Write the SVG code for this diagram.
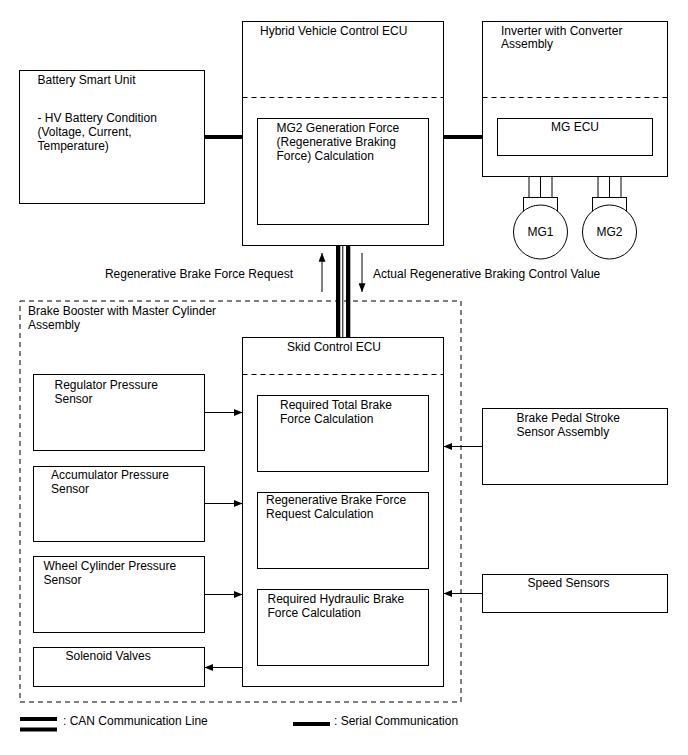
<svg xmlns="http://www.w3.org/2000/svg" width="688" height="755" viewBox="0 0 688 755">
<defs>
<style>
text{font-family:"Liberation Sans",Arial,sans-serif;font-size:12px;fill:#000}
.box{fill:#fff;stroke:#000;stroke-width:1}
.dash{fill:none;stroke:#000;stroke-width:1;stroke-dasharray:5,4}
.ln{stroke:#000;stroke-width:1;fill:none}
.ser{stroke:#000;stroke-width:4;fill:none}
.arr{stroke:#000;stroke-width:1;fill:none;marker-end:url(#ah)}
</style>
<marker id="ah" viewBox="0 0 10 8" refX="10" refY="4" markerWidth="9" markerHeight="7" markerUnits="userSpaceOnUse" orient="auto">
<path d="M0,0 L10,4 L0,8 Z" fill="#000"/>
</marker>
</defs>
<rect width="688" height="755" fill="#fff"/>

<g id="brake-booster">
<rect class="dash" x="20" y="301" width="441" height="401"/>
<text x="28" y="315">Brake Booster with Master Cylinder</text>
<text x="28" y="329">Assembly</text>
</g>

<g id="connectors">
<line class="ser" x1="204.5" y1="137" x2="242.5" y2="137"/>
<line class="ser" x1="443.5" y1="137" x2="497.5" y2="137"/>
<rect x="336" y="245.5" width="4.3" height="92" fill="#000"/>
<rect x="346" y="245.5" width="4.3" height="92" fill="#000"/>
<line x1="342.8" y1="245.5" x2="342.8" y2="337.5" stroke="#000" stroke-width="1"/>
<line class="arr" x1="322" y1="292" x2="322" y2="253"/>
<line class="arr" x1="362" y1="253" x2="362" y2="292"/>
<line class="arr" x1="204.5" y1="412.5" x2="242.5" y2="412.5"/>
<line class="arr" x1="204.5" y1="503.5" x2="242.5" y2="503.5"/>
<line class="arr" x1="204.5" y1="594.5" x2="242.5" y2="594.5"/>
<line class="arr" x1="242.5" y1="667.5" x2="204.5" y2="667.5"/>
<line class="arr" x1="482.5" y1="446.5" x2="443.5" y2="446.5"/>
<line class="arr" x1="482.5" y1="593.5" x2="443.5" y2="593.5"/>
<line class="ln" x1="529" y1="176.5" x2="529" y2="197.5"/>
<line class="ln" x1="540.5" y1="176.5" x2="540.5" y2="197.5"/>
<line class="ln" x1="552" y1="176.5" x2="552" y2="197.5"/>
<line class="ln" x1="598" y1="176.5" x2="598" y2="197.5"/>
<line class="ln" x1="609.5" y1="176.5" x2="609.5" y2="197.5"/>
<line class="ln" x1="621" y1="176.5" x2="621" y2="197.5"/>
</g>

<g id="battery-smart-unit">
<rect class="box" x="19.5" y="70.5" width="185" height="133"/>
<text x="37.5" y="83.5">Battery Smart Unit</text>
<text x="37.5" y="121.5">- HV Battery Condition</text>
<text x="37.5" y="135.5">(Voltage, Current,</text>
<text x="37.5" y="149.5">Temperature)</text>
</g>

<g id="hv-ecu">
<rect class="box" x="242.5" y="21.5" width="201" height="224"/>
<text x="260" y="35">Hybrid Vehicle Control ECU</text>
<line class="dash" x1="242.5" y1="97.5" x2="443.5" y2="97.5"/>
</g>

<g id="mg2-generation-force">
<rect class="box" x="257.5" y="118.5" width="171" height="106"/>
<text x="276.5" y="131.5">MG2 Generation Force</text>
<text x="276.5" y="145.5">(Regenerative Braking</text>
<text x="276.5" y="159.5">Force) Calculation</text>
</g>

<g id="inverter">
<rect class="box" x="482.5" y="21.5" width="185" height="155"/>
<text x="501" y="34.5">Inverter with Converter</text>
<text x="501" y="48">Assembly</text>
<line class="dash" x1="482.5" y1="97.5" x2="667.5" y2="97.5"/>
</g>

<g id="mg-ecu">
<rect class="box" x="497.5" y="118.5" width="155" height="37"/>
<text x="575" y="131" text-anchor="middle">MG ECU</text>
</g>

<g id="mg1">
<rect class="box" x="523.5" y="197.5" width="34" height="14"/>
<circle class="box" cx="540.5" cy="232" r="27"/>
<text x="540.5" y="236" text-anchor="middle">MG1</text>
</g>

<g id="mg2">
<rect class="box" x="592.5" y="197.5" width="34" height="14"/>
<circle class="box" cx="609.5" cy="232" r="27"/>
<text x="609.5" y="236" text-anchor="middle">MG2</text>
</g>

<g id="labels">
<text x="293" y="278" text-anchor="end">Regenerative Brake Force Request</text>
<text x="373" y="278">Actual Regenerative Braking Control Value</text>
</g>

<g id="skid-ecu">
<rect class="box" x="242.5" y="337.5" width="201" height="349"/>
<text x="287" y="350.5">Skid Control ECU</text>
<line class="dash" x1="242.5" y1="374.5" x2="443.5" y2="374.5"/>
</g>

<g id="required-total">
<rect class="box" x="257.5" y="395.5" width="171" height="76"/>
<text x="280" y="409">Required Total Brake</text>
<text x="280" y="423">Force Calculation</text>
</g>

<g id="regen-request">
<rect class="box" x="257.5" y="492.5" width="171" height="76"/>
<text x="266" y="504">Regenerative Brake Force</text>
<text x="266" y="518">Request Calculation</text>
</g>

<g id="required-hydraulic">
<rect class="box" x="257.5" y="589.5" width="171" height="76"/>
<text x="267.5" y="603">Required Hydraulic Brake</text>
<text x="267.5" y="617">Force Calculation</text>
</g>

<g id="regulator-sensor">
<rect class="box" x="33.5" y="374.5" width="171" height="76"/>
<text x="54.5" y="389">Regulator Pressure</text>
<text x="54.5" y="403">Sensor</text>
</g>

<g id="accumulator-sensor">
<rect class="box" x="33.5" y="466.5" width="171" height="75"/>
<text x="51" y="479">Accumulator Pressure</text>
<text x="51" y="493">Sensor</text>
</g>

<g id="wheel-cylinder-sensor">
<rect class="box" x="33.5" y="556.5" width="171" height="76"/>
<text x="43.5" y="570">Wheel Cylinder Pressure</text>
<text x="43.5" y="584">Sensor</text>
</g>

<g id="solenoid-valves">
<rect class="box" x="33.5" y="647.5" width="171" height="39"/>
<text x="65.5" y="659.5">Solenoid Valves</text>
</g>

<g id="brake-pedal-sensor">
<rect class="box" x="482.5" y="408.5" width="185" height="76"/>
<text x="516.5" y="422">Brake Pedal Stroke</text>
<text x="516.5" y="436">Sensor Assembly</text>
</g>

<g id="speed-sensors">
<rect class="box" x="482.5" y="574.5" width="185" height="38"/>
<text x="527.5" y="586.5">Speed Sensors</text>
</g>

<g id="legend">
<rect x="20" y="717" width="37" height="4" fill="#000"/>
<rect x="20" y="727.5" width="37" height="4" fill="#000"/>
<text x="63" y="724.5">: CAN Communication Line</text>
<line class="ser" x1="293" y1="724" x2="330" y2="724"/>
<text x="334" y="724.5">: Serial Communication</text>
</g>
</svg>
